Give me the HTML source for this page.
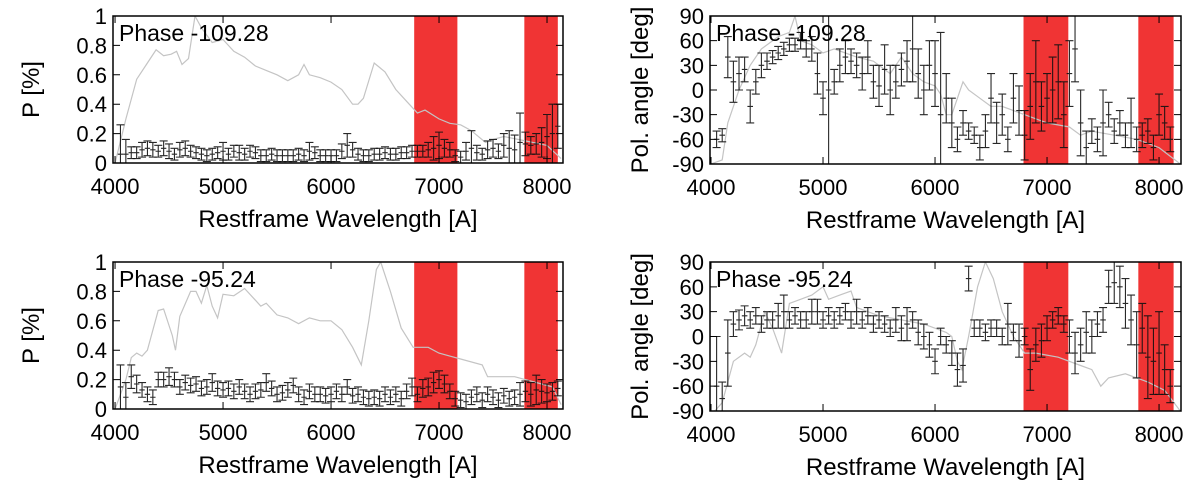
<!DOCTYPE html>
<html><head><meta charset="utf-8"><style>
body{margin:0;background:#fff;}
svg{display:block;font-family:"Liberation Sans",sans-serif;}
</style></head><body>
<svg id="fig" width="1200" height="485" viewBox="0 0 1200 485"></svg>
<script>
// ---- data ----
const binStart = 4050, binStep = 50;
const bandRanges = [[6770,7170],[7790,8100]];
const bandRangesR = [[6790,7190],[7815,8130]];

const pTopVals = [0.06,0.06,0.07,0.07,0.09,0.1,0.09,0.08,0.1,0.08,
0.06,0.09,0.1,0.08,0.07,0.06,0.05,0.06,0.07,0.08,
0.06,0.08,0.07,0.06,0.08,0.07,0.05,0.05,0.06,0.05,
0.05,0.05,0.05,0.06,0.05,0.08,0.07,0.05,0.05,0.05,
0.05,0.08,0.12,0.09,0.06,0.05,0.05,0.06,0.06,0.07,
0.06,0.06,0.07,0.07,0.08,0.08,0.08,0.09,0.1,0.12,
0.1,0.09,0.05,0.04,0.08,0.1,0.07,0.06,0.09,0.1,
0.08,0.12,0.1,0.09,0.14,0.13,0.12,0.13,0.14,0.18,0.2,0.25];
const pTopErr = [0.2,0.1,0.04,0.04,0.05,0.05,0.05,0.04,0.05,0.05,
0.04,0.05,0.05,0.04,0.04,0.04,0.04,0.04,0.04,0.06,
0.04,0.04,0.05,0.04,0.04,0.04,0.04,0.04,0.04,0.04,
0.04,0.04,0.04,0.04,0.04,0.06,0.04,0.04,0.04,0.04,
0.04,0.05,0.08,0.05,0.04,0.04,0.04,0.04,0.04,0.04,
0.04,0.04,0.04,0.04,0.04,0.04,0.04,0.05,0.08,0.09,
0.06,0.05,0.04,0.04,0.06,0.12,0.05,0.04,0.06,0.06,
0.05,0.08,0.12,0.1,0.2,0.08,0.06,0.07,0.1,0.15,0.2,0.15];
const fluxTopWl = [4000,4100,4200,4300,4380,4450,4520,4570,4620,4680,4740,4800,4900,5000,5100,5200,5300,5400,5500,5600,5700,5750,5800,5900,6000,6100,6200,6250,6300,6400,6500,6600,6700,6800,6870,7000,7100,7200,7300,7430,7500,7600,7800,8000,8130];
const fluxTopVal = [0.0,0.3,0.57,0.68,0.77,0.73,0.74,0.76,0.67,0.71,1.0,0.92,0.82,0.84,0.76,0.72,0.66,0.63,0.6,0.56,0.6,0.67,0.6,0.58,0.55,0.5,0.4,0.4,0.44,0.68,0.62,0.5,0.42,0.34,0.36,0.3,0.27,0.26,0.22,0.14,0.16,0.18,0.15,0.12,0.03];

const aTopVals = [-60,-55,40,10,20,25,-20,10,30,35,40,45,50,
55,55,60,50,50,20,-10,0,10,30,
40,35,30,20,40,10,5,25,0,10,
25,35,50,20,0,30,20,-30,-10,-40,
-60,-40,-50,-55,-70,-50,-10,-40,-30,-60,
-10,-25,-55,-20,10,-20,-10,0,10,-30,
20,50,-40,-70,-50,-60,-40,-30,-50,-40,
-55,-40,-60,-55,-50,-70,-30,-40,-60];
const aTopErr = [10,8,25,25,20,15,20,15,15,10,8,8,8,
8,8,10,10,15,25,20,100,15,20,
20,15,15,20,20,20,25,30,30,20,
20,25,40,30,30,30,40,100,30,30,
15,15,10,10,15,20,30,25,25,15,
30,30,30,40,50,30,30,40,45,40,
40,40,40,20,15,15,40,15,15,15,
15,30,15,15,15,15,25,20,15];

const pBotVals = [0.15,0.08,0.22,0.17,0.13,0.1,0.08,0.2,0.2,0.22,
0.2,0.15,0.18,0.16,0.17,0.14,0.15,0.18,0.14,0.13,
0.14,0.12,0.15,0.12,0.1,0.12,0.13,0.18,0.14,0.1,
0.11,0.13,0.16,0.1,0.08,0.12,0.1,0.1,0.09,0.1,
0.12,0.1,0.15,0.09,0.1,0.08,0.07,0.08,0.07,0.1,
0.08,0.1,0.07,0.12,0.15,0.1,0.14,0.15,0.18,0.2,
0.17,0.12,0.07,0.06,0.05,0.08,0.1,0.06,0.1,0.08,
0.06,0.09,0.07,0.08,0.1,0.12,0.1,0.13,0.12,0.11,0.12,0.14];
const pBotErr = [0.15,0.1,0.08,0.06,0.05,0.05,0.05,0.05,0.05,0.06,
0.05,0.05,0.05,0.05,0.05,0.05,0.05,0.06,0.05,0.05,
0.05,0.05,0.05,0.05,0.05,0.05,0.05,0.06,0.05,0.05,
0.05,0.05,0.05,0.05,0.05,0.05,0.05,0.05,0.05,0.05,
0.05,0.05,0.05,0.05,0.05,0.05,0.05,0.05,0.05,0.05,
0.05,0.05,0.05,0.05,0.06,0.05,0.06,0.06,0.07,0.06,
0.06,0.05,0.05,0.05,0.05,0.05,0.05,0.05,0.05,0.05,
0.05,0.05,0.05,0.05,0.08,0.07,0.08,0.1,0.08,0.06,0.06,0.05];
const fluxBotWl = [4000,4100,4150,4200,4250,4300,4400,4450,4530,4560,4600,4700,4750,4800,4850,4900,4950,5000,5100,5200,5300,5350,5400,5500,5600,5700,5800,5900,6000,6100,6200,6280,6350,6420,6460,6550,6650,6760,6900,7000,7100,7200,7400,7450,7550,7700,7900,8050,8130];
const fluxBotVal = [0,0.2,0.35,0.38,0.36,0.4,0.67,0.68,0.5,0.4,0.63,0.8,0.8,0.72,0.84,0.7,0.62,0.78,0.77,0.82,0.74,0.7,0.72,0.64,0.62,0.58,0.62,0.6,0.6,0.54,0.42,0.3,0.6,0.95,1.0,0.8,0.55,0.42,0.42,0.38,0.36,0.34,0.3,0.22,0.22,0.22,0.18,0.15,0.03];

const aBotVals = [-60,-75,-20,15,20,25,20,25,15,20,
20,25,30,20,25,20,20,30,30,20,
25,20,25,30,20,30,20,25,15,20,
15,10,20,10,15,20,5,0,-10,-30,
0,-10,-20,-40,-35,70,10,10,5,10,
10,0,15,5,-5,0,-40,-10,-5,10,
20,25,15,0,-20,-10,5,0,15,20,
60,65,60,40,20,-10,10,-25,-30,-20,-40,-60];
const aBotErr = [60,20,40,15,12,12,10,10,10,10,
10,15,20,10,10,10,10,15,15,10,
10,10,10,10,10,15,10,10,10,10,
10,10,15,15,20,10,15,15,15,15,
10,10,15,20,20,15,10,10,10,10,
10,10,25,10,20,10,25,20,20,15,
10,10,10,20,25,20,25,20,15,15,
20,25,25,30,30,40,30,50,40,50,30,20];
const fluxRBotWl = [4000,4100,4200,4300,4350,4400,4480,4550,4630,4700,4800,4900,5000,5050,5150,5250,5300,5500,5700,5900,6000,6100,6150,6200,6240,6300,6380,6450,6520,6600,6700,6800,6900,7100,7300,7400,7480,7550,7700,7900,8050,8190];
const fluxRBotVal = [-95,-80,-30,-20,-25,-10,30,10,-20,40,45,50,60,45,50,55,35,25,20,15,10,5,0,-30,-40,0,60,90,70,30,0,-20,-20,-25,-35,-40,-60,-50,-45,-55,-65,-90];
const fluxRTopWl = [4000,4100,4150,4250,4350,4450,4600,4700,4750,4800,4900,5000,5100,5200,5300,5450,5500,5600,5700,5800,5900,6000,6050,6100,6150,6250,6300,6400,6500,6600,6800,6900,7000,7200,7300,7400,7600,7800,8000,8190];
const fluxRTopVal = [-90,-85,-40,0,30,50,65,70,90,60,55,45,50,45,40,35,30,20,40,20,10,5,-5,-30,-30,10,0,-10,-20,-20,-30,-35,-40,-45,-55,-50,-55,-60,-70,-90];

const pTicks = ["0","0.2","0.4","0.6","0.8","1"];
const pTickVals = [0,0.2,0.4,0.6,0.8,1];
const aTickVals = [-90,-60,-30,0,30,60,90];
const xTickVals = [4000,5000,6000,7000,8000];

// ---- drawing ----
const NS="http://www.w3.org/2000/svg";
const svg=document.getElementById('fig');
function mk(tag,attrs,parent){const e=document.createElementNS(NS,tag);for(const k in attrs)e.setAttribute(k,attrs[k]);(parent||svg).appendChild(e);return e;}

function panel(id,box,xd,yd,yTickVals,yTickLabels,yTitle,phase,bands,vals,errs,fwl,fval){
  const [x0,y0,x1,y1]=box;
  const sx=v=>x0+(v-xd[0])/(xd[1]-xd[0])*(x1-x0);
  const sy=v=>y1-(v-yd[0])/(yd[1]-yd[0])*(y1-y0);
  const g=mk('g',{});
  
  
  const clip=mk('clipPath',{id:'c-'+id},g);
  mk('rect',{x:x0,y:y0,width:x1-x0,height:y1-y0},clip);
  const inner=mk('g',{'clip-path':'url(#c-'+id+')'},g);
  bands.forEach((b,i)=>{
    const r=mk('rect',{x:sx(b[0]),y:y0,width:sx(b[1])-sx(b[0]),height:y1-y0,fill:'#f03434'},inner);
    
    
  });
  const pts=fwl.map((w,i)=>sx(w).toFixed(1)+','+sy(fval[i]).toFixed(1)).join(' ');
  const fl=mk('polyline',{points:pts,fill:'none',stroke:'#c4c4c4','stroke-width':1.2},inner);
  
  
  const eg=mk('g',{stroke:'#111','stroke-width':1.1,'stroke-opacity':0.9,fill:'none'},inner);
  
  
  vals.forEach((v,i)=>{
    const w=binStart+binStep*i;
    const xa=sx(w-binStep/2),xb=sx(w+binStep/2),xc=sx(w);
    const yv=sy(v),ylo=sy(v-errs[i]),yhi=sy(v+errs[i]);
    const p=mk('path',{d:`M${xa},${yv}H${xb}M${xc},${ylo}V${yhi}M${xc-4},${ylo}H${xc+4}M${xc-4},${yhi}H${xc+4}`},eg);
    
    
  });
  const fr=mk('rect',{x:x0,y:y0,width:x1-x0,height:y1-y0,fill:'none',stroke:'#000','stroke-width':1.5},g);
  
  
  xTickVals.forEach(t=>{
    const x=sx(t);
    mk('path',{d:`M${x},${y1}v-7M${x},${y0}v7`,stroke:'#000','stroke-width':1},g);
    const tx=mk('text',{x:x,y:y1+31,'text-anchor':'middle','font-size':22},g);
    tx.textContent=t;
    
    
  });
  yTickVals.forEach((t,i)=>{
    const y=sy(t);
    mk('path',{d:`M${x0},${y}h7M${x1},${y}h-7`,stroke:'#000','stroke-width':1},g);
    const tx=mk('text',{x:x0-6,y:y+8,'text-anchor':'end','font-size':22},g);
    tx.textContent=yTickLabels[i];
    
    
  });
  const xt=mk('text',{x:(x0+x1)/2,y:y1+64,'text-anchor':'middle','font-size':24},g);
  xt.textContent='Restframe Wavelength [A]';
  
  
  const yc=(y0+y1)/2, yx=yTitle.length>6?x0-62:x0-74;
  const yt=mk('text',{x:yx,y:yc,'text-anchor':'middle','font-size':24,transform:`rotate(-90 ${yx} ${yc})`},g);
  yt.textContent=yTitle;
  
  
  const ph=mk('text',{x:x0+6,y:y0+25,'font-size':23},g);
  ph.textContent=phase;
  
  
}
const aLabels=aTickVals.map(String);
panel('panel-p-top',[113,16,563,163],[3981,8148],[0,1],pTickVals,pTicks,'P [%]','Phase -109.28',bandRanges,pTopVals,pTopErr,fluxTopWl,fluxTopVal);
panel('panel-angle-top',[710,16,1181,164],[3991,8196],[-90,90],aTickVals,aLabels,'Pol. angle [deg]','Phase -109.28',bandRangesR,aTopVals,aTopErr,fluxRTopWl,fluxRTopVal);
panel('panel-p-bottom',[113,262,563,409],[3981,8148],[0,1],pTickVals,pTicks,'P [%]','Phase -95.24',bandRanges,pBotVals,pBotErr,fluxBotWl,fluxBotVal);
panel('panel-angle-bottom',[710,262,1181,411],[3991,8196],[-90,90],aTickVals,aLabels,'Pol. angle [deg]','Phase -95.24',bandRangesR,aBotVals,aBotErr,fluxRBotWl,fluxRBotVal);
</script>
</body></html>
